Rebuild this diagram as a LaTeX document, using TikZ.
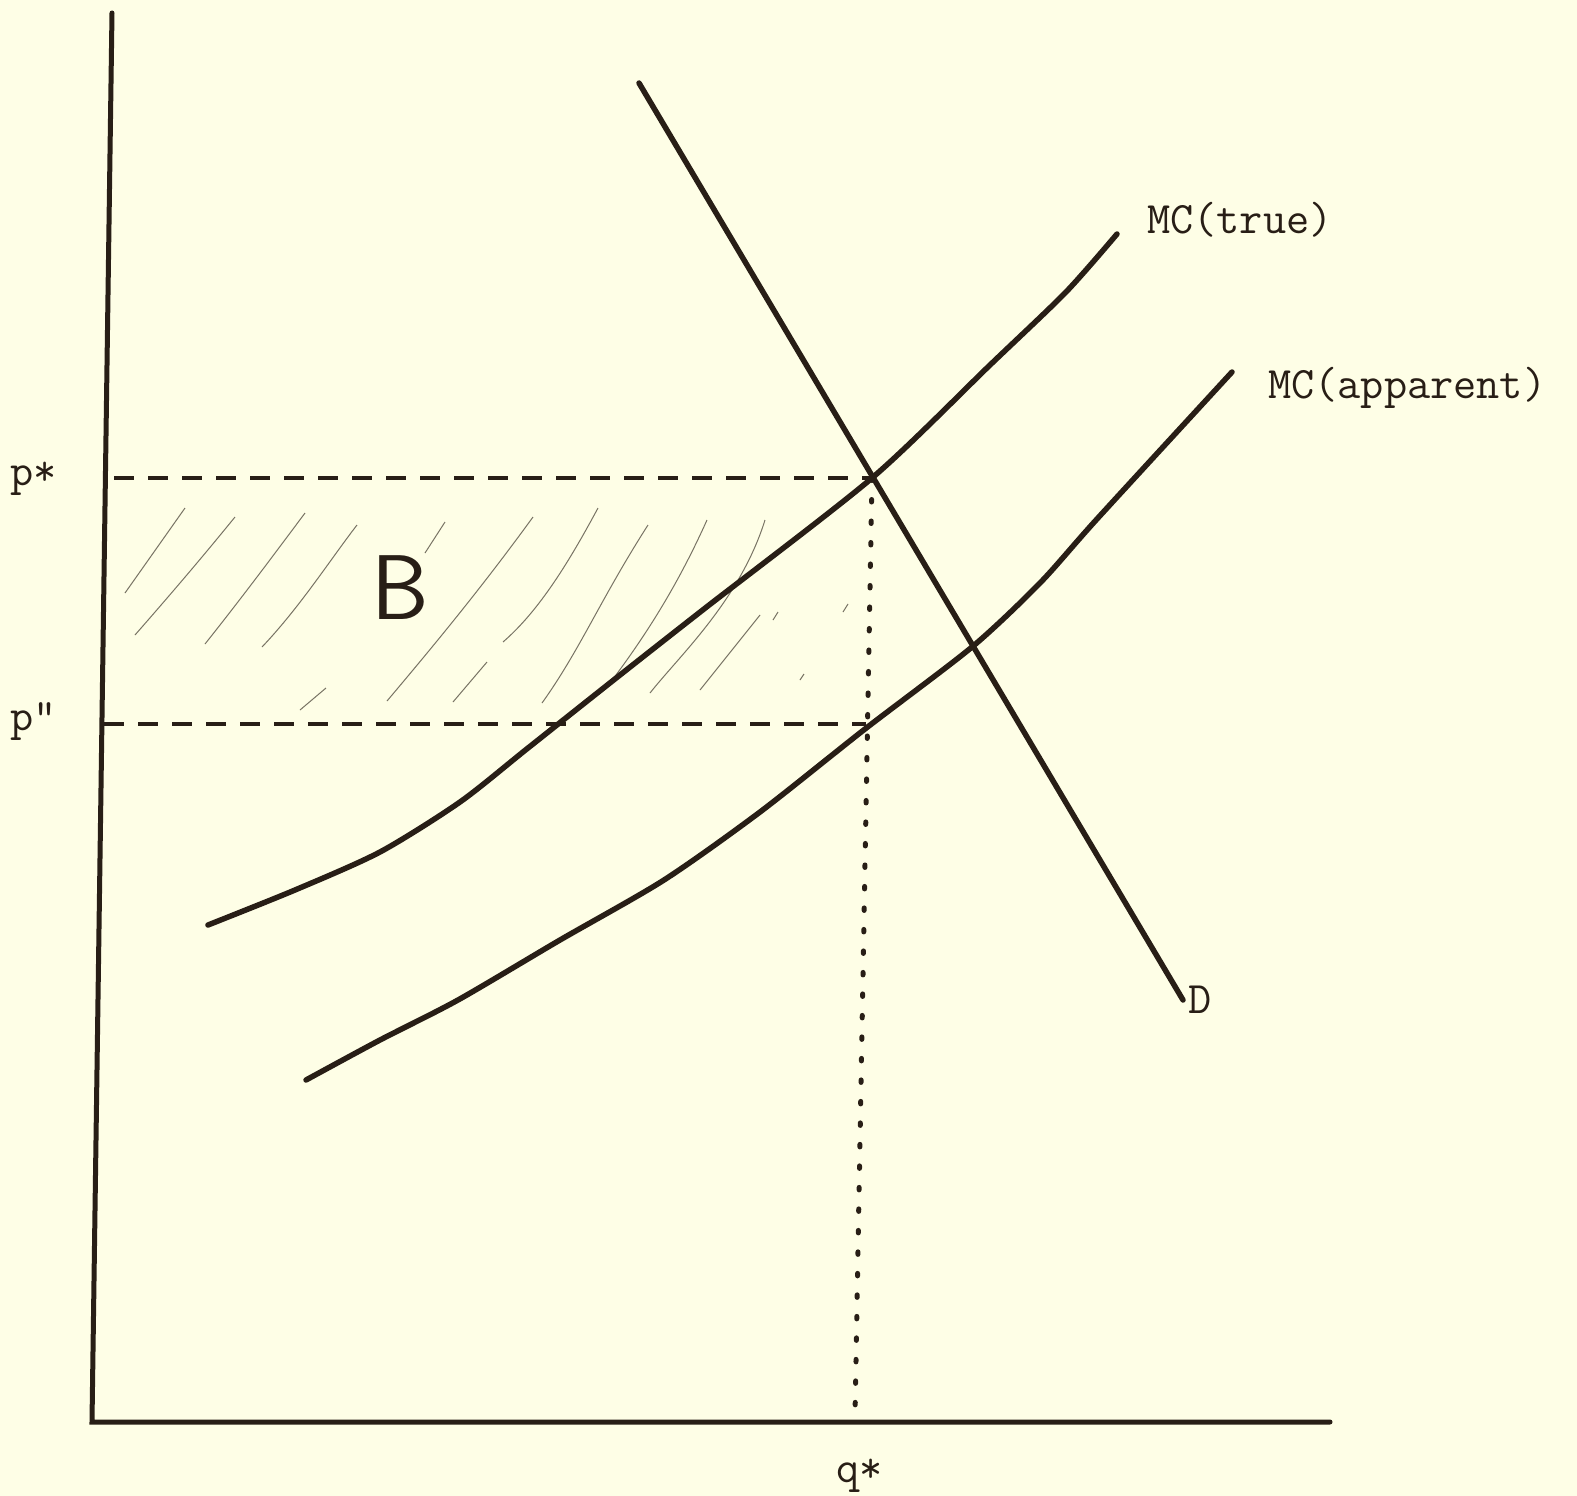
\documentclass[tikz,border=0pt]{standalone}
\usepackage{fontspec}
\definecolor{paper}{RGB}{254,254,230}
\definecolor{ink}{RGB}{40,30,22}
\definecolor{hatch}{RGB}{120,115,100}
\begin{document}
\begin{tikzpicture}[x=1pt,y=-1pt,
  axisline/.style={ink,line width=5pt,line cap=round},
  curve/.style={ink,line width=5.5pt,line cap=round},
  dashline/.style={ink,line width=4.5pt,dash pattern=on 20pt off 14pt},
  dotline/.style={ink,line width=5pt,line cap=round,dash pattern=on 2.5pt off 19pt},
  hatchline/.style={hatch,line width=1pt},
  lbl/.style={text=ink,font=\fontsize{45}{47}\selectfont\ttfamily,inner sep=0pt}]
\fill[paper] (0,0) rectangle (1577,1496);
\useasboundingbox (0,0) rectangle (1577,1496);
% coordinates
\coordinate (ytop) at (112,13);
\coordinate (origin) at (92,1422);
\coordinate (xend) at (1330,1422);
\coordinate (pstarL) at (114,478);
\coordinate (Estar) at (872,478);
\coordinate (ppL) at (104,724);
\coordinate (ppR) at (866,724);
\coordinate (qstar) at (855,1416);
\coordinate (Dtop) at (639,83);
\coordinate (Dbot) at (1183,1000);
% hatching
\begin{scope}[hatchline]
\draw (125,593) -- (185,508);
\draw (135,635) .. controls (170,595) and (200,560) .. (235,517);
\draw (205,644) .. controls (240,600) and (270,560) .. (305,513);
\draw (262,647) .. controls (300,607) and (330,560) .. (357,525);
\draw (300,710) -- (326,688);
\draw (425,553) -- (445,522);
\draw (387,701) .. controls (430,650) and (480,590) .. (533,517);
\draw (453,702) -- (487,662);
\draw (503,642) .. controls (540,610) and (570,560) .. (598,508);
\draw (542,703) .. controls (580,650) and (600,600) .. (648,525);
\draw (610,683) .. controls (650,630) and (680,580) .. (707,520);
\draw (650,693) .. controls (680,655) and (740,600) .. (765,520);
\draw (700,690) -- (760,615);
\draw (773,620) -- (778,612);
\draw (800,680) -- (804,674);
\draw (843,612) -- (848,604);
\end{scope}
% axes
\draw[axisline] (ytop) -- (origin) -- (xend);
% guide lines
\draw[dashline] (pstarL) -- (Estar);
\draw[dashline] (ppL) -- (ppR);
\draw[dotline] (Estar) -- (qstar);
% curves
\draw[curve] (Dtop) -- (Dbot);
\draw[curve] plot[smooth,tension=0.45] coordinates {(208,925) (295,890) (380,852) (460,802) (528,748) (620,675) (704,609) (872,478) (990,365) (1066,292) (1117,234)};
\draw[curve] plot[smooth,tension=0.45] coordinates {(306,1080) (380,1040) (458,1000) (560,940) (664,880) (760,812) (865,729) (972,647) (1040,583) (1097,519) (1232,372)};
% labels
\node[lbl,anchor=base west] (lpstar) at (10,485) {p*};
\node[lbl,anchor=base west] (lpp) at (10,730) {p"};
\node[lbl,anchor=base west] (lqstar) at (836,1482) {q*};
\node[lbl,anchor=base west] (lmct) at (1147,233) {MC(true)};
\node[lbl,anchor=base west] (lmca) at (1268,398) {MC(apparent)};
\node[lbl,anchor=base west] (lD) at (1188,1013) {D};
\node[text=ink,font=\fontsize{92}{92}\sffamily,inner sep=0pt] (lB) at (400,588) {B};
\end{tikzpicture}
\end{document}
